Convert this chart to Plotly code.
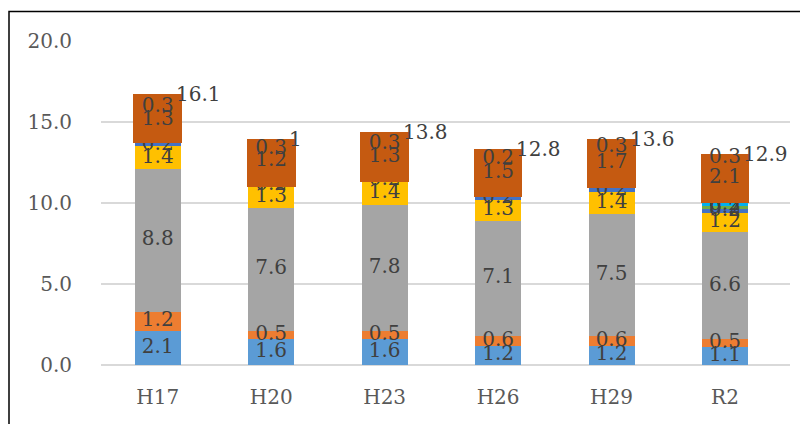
import plotly.graph_objects as go

categories = ["H17", "H20", "H23", "H26", "H29", "R2"]

s_blue = [2.1, 1.6, 1.6, 1.2, 1.2, 1.1]
s_orange = [1.2, 0.5, 0.5, 0.6, 0.6, 0.5]
s_gray = [8.8, 7.6, 7.8, 7.1, 7.5, 6.6]
s_yellow = [1.4, 1.3, 1.4, 1.3, 1.4, 1.2]
s_navy = [0.2, 0.2, 0.2, 0.2, 0.2, 0.2]
s_green = [0, 0, 0, 0, 0, 0.2]
s_cyan = [0, 0, 0, 0, 0, 0.2]

# dark orange block at the top of each bar
box_bottom = [13.7, 11.0, 11.3, 10.35, 10.95, 10.0]
box_top = [16.7, 13.93, 14.38, 13.35, 13.97, 13.04]
upper_a = [1.3, 1.2, 1.3, 1.5, 1.7, 2.1]
upper_b = [0.3, 0.3, 0.3, 0.2, 0.3, 0.3]

totals = [16.1, 13.5, 13.8, 12.8, 13.6, 12.9]
total_text = ["16.1", "1", "13.8", "12.8", "13.6", "12.9"]

y_ticks = [0, 5, 10, 15, 20]
y_ticktext = ["0.0", "5.0", "10.0", "15.0", "20.0"]

series = [
    (s_blue, "#5B9BD5"),
    (s_orange, "#ED7D31"),
    (s_gray, "#A5A5A5"),
    (s_yellow, "#FFC000"),
    (s_navy, "#4472C4"),
    (s_green, "#70AD47"),
    (s_cyan, "#00B0F0"),
]

FONT = "DejaVu Serif"
LABEL_COLOR = "#404040"
TICK_COLOR = "#595959"

fig = go.Figure()

cum = [0.0] * len(categories)
lab_x, lab_y, lab_t = [], [], []
for vals, color in series:
    fig.add_trace(go.Bar(
        x=categories, y=vals, marker=dict(color=color, line=dict(width=0)),
        width=0.405, showlegend=False, hoverinfo="skip",
    ))
    for i, v in enumerate(vals):
        if v > 0:
            lab_x.append(categories[i])
            lab_y.append(cum[i] + v / 2)
            lab_t.append(f"{v:.1f}")
        cum[i] += v

fig.add_trace(go.Scatter(
    x=lab_x, y=lab_y, text=lab_t, mode="text", textposition="middle center",
    textfont=dict(family=FONT, size=20, color=LABEL_COLOR),
    showlegend=False, hoverinfo="skip", cliponaxis=False,
))

# top block on an overlaying axis so it is drawn above the lower labels
fig.add_trace(go.Bar(
    x=categories, y=[t - b for t, b in zip(box_top, box_bottom)], base=box_bottom,
    marker=dict(color="#C55A11", line=dict(width=0)), width=0.43,
    yaxis="y2", showlegend=False, hoverinfo="skip",
))
ua_y = [t - b - a / 2 for t, a, b in zip(totals, upper_a, upper_b)]
ub_y = [t - b / 2 for t, b in zip(totals, upper_b)]
fig.add_trace(go.Scatter(
    x=categories + categories, y=ua_y + ub_y,
    text=[f"{v:.1f}" for v in upper_a] + [f"{v:.1f}" for v in upper_b],
    mode="text", textposition="middle center",
    textfont=dict(family=FONT, size=20, color=LABEL_COLOR),
    yaxis="y2", showlegend=False, hoverinfo="skip", cliponaxis=False,
))

for c, y, t in zip(categories, box_top, total_text):
    fig.add_annotation(
        x=c, y=y, yref="y2", text=t, showarrow=False, xanchor="left", yanchor="middle",
        xshift=16, font=dict(family=FONT, size=20, color=LABEL_COLOR),
    )

# page body has an 8px margin, so the figure is sized to fill the rest
W, H = 800, 416
L, R, T, B = 93, 18, 33, 59
pw, ph = W - L - R, H - T - B
fig.add_shape(
    type="rect", xref="paper", yref="paper",
    x0=(1 - L) / pw, x1=1.3, y0=-0.5, y1=(H - B - 3.5) / ph,
    line=dict(color="black", width=1.5), fillcolor="rgba(0,0,0,0)", layer="above",
)

fig.update_layout(
    width=W, height=H, barmode="stack",
    margin=dict(l=L, r=R, t=T, b=B),
    paper_bgcolor="white", plot_bgcolor="white",
    font=dict(family=FONT, size=20, color=TICK_COLOR),
    xaxis=dict(
        showgrid=False, showline=False, ticks="", zeroline=False,
        tickfont=dict(family=FONT, size=20, color=TICK_COLOR),
        ticklabelstandoff=18,
    ),
    yaxis=dict(
        range=[0, 20], tickvals=y_ticks, ticktext=y_ticktext,
        showgrid=True, gridcolor="#D9D9D9", gridwidth=1.5,
        zeroline=True, zerolinecolor="#D9D9D9", zerolinewidth=1.5,
        showline=False, ticks="",
        tickfont=dict(family=FONT, size=20, color=TICK_COLOR),
        ticklabelstandoff=28,
    ),
    yaxis2=dict(
        range=[0, 20], overlaying="y", showgrid=False, zeroline=False,
        showticklabels=False, showline=False, ticks="",
    ),
)

fig.write_html("out.html")
